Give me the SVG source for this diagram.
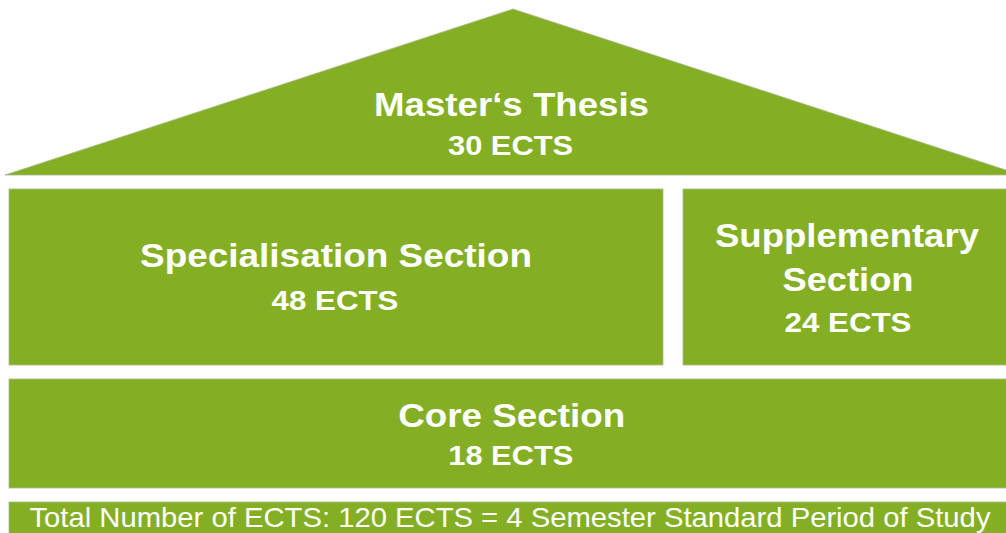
<svg xmlns="http://www.w3.org/2000/svg" width="1006" height="533" viewBox="0 0 1006 533">
  <style>
    .blk { fill: #84AF24; stroke: #A9B98C; stroke-width: 0.8; }
    .t { font-family: "Liberation Sans", Arial, sans-serif; fill: #FFFFFF; text-anchor: middle; }
    .h { font-weight: bold; font-size: 33px; }
    .e { font-weight: bold; font-size: 27px; }
    .f { font-size: 28px; }
  </style>
  <rect x="0" y="0" width="1006" height="533" fill="#FFFFFF"/>
  <g id="thesis">
    <polygon class="blk" points="513,9 5,175 1021,175"/>
    <text class="t h" x="511.5" y="116" textLength="275" lengthAdjust="spacingAndGlyphs">Master‘s Thesis</text>
    <text class="t e" x="510.5" y="155" textLength="125" lengthAdjust="spacingAndGlyphs">30 ECTS</text>
  </g>
  <g id="specialisation">
    <rect class="blk" x="9" y="189" width="654" height="176"/>
    <text class="t h" x="336" y="267" textLength="392" lengthAdjust="spacingAndGlyphs">Specialisation Section</text>
    <text class="t e" x="335" y="310" textLength="127" lengthAdjust="spacingAndGlyphs">48 ECTS</text>
  </g>
  <g id="supplementary">
    <rect class="blk" x="683" y="189" width="330" height="176"/>
    <text class="t h" x="847" y="247" textLength="264" lengthAdjust="spacingAndGlyphs">Supplementary</text>
    <text class="t h" x="848" y="291" textLength="131" lengthAdjust="spacingAndGlyphs">Section</text>
    <text class="t e" x="848" y="332" textLength="127" lengthAdjust="spacingAndGlyphs">24 ECTS</text>
  </g>
  <g id="core">
    <rect class="blk" x="9" y="379" width="1004" height="109"/>
    <text class="t h" x="511.7" y="427" textLength="227" lengthAdjust="spacingAndGlyphs">Core Section</text>
    <text class="t e" x="510.8" y="465" textLength="125" lengthAdjust="spacingAndGlyphs">18 ECTS</text>
  </g>
  <g id="total">
    <rect class="blk" x="9" y="502" width="1004" height="40"/>
    <text class="t f" x="510" y="527" textLength="961" lengthAdjust="spacingAndGlyphs">Total Number of ECTS: 120 ECTS = 4 Semester Standard Period of Study</text>
  </g>
  <g id="connectors"/>
</svg>
